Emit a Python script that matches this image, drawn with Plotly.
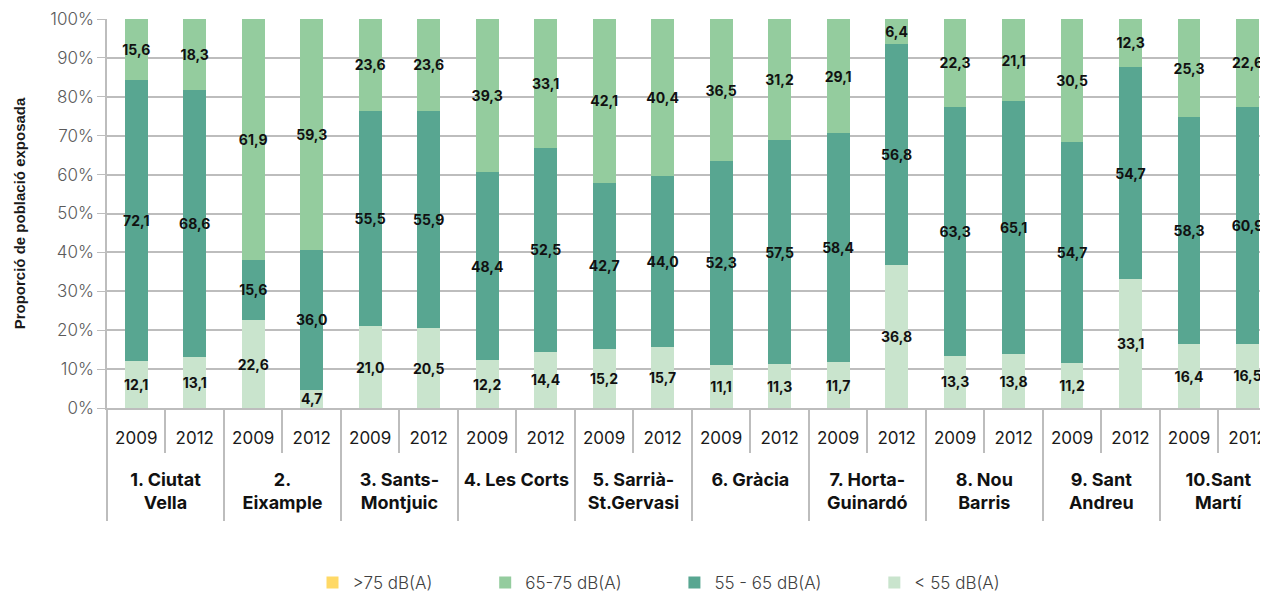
import plotly.graph_objects as go

districts = ["1. Ciutat<br>Vella", "2.<br>Eixample", "3. Sants-<br>Montjuic", "4. Les Corts",
             "5. Sarrià-<br>St.Gervasi", "6. Gràcia", "7. Horta-<br>Guinardó", "8. Nou<br>Barris",
             "9. Sant<br>Andreu", "10.Sant<br>Martí"]
years = ["2009", "2012"]

below55 = [12.1, 13.1, 22.6, 4.7, 21.0, 20.5, 12.2, 14.4, 15.2, 15.7,
           11.1, 11.3, 11.7, 36.8, 13.3, 13.8, 11.2, 33.1, 16.4, 16.5]
db55_65 = [72.1, 68.6, 15.6, 36.0, 55.5, 55.9, 48.4, 52.5, 42.7, 44.0,
           52.3, 57.5, 58.4, 56.8, 63.3, 65.1, 54.7, 54.7, 58.3, 60.9]
db65_75 = [15.6, 18.3, 61.9, 59.3, 23.6, 23.6, 39.3, 33.1, 42.1, 40.4,
           36.5, 31.2, 29.1, 6.4, 22.3, 21.1, 30.5, 12.3, 25.3, 22.6]
above75 = [0] * 20

series_names = ["< 55 dB(A)", "55 - 65 dB(A)", "65-75 dB(A)", ">75 dB(A)"]
colors = ["#C9E4CD", "#58A691", "#94CC9E", "#FFD966"]

FONT = "Inter"
x_keys = [f"{d}|{y}" for d in districts for y in years]
year_text = [y for d in districts for y in years]
n = len(x_keys)
xr = [-0.5, n - 0.65]

def fmt(v):
    return f"{v:.1f}".replace(".", ",")

pad = "\u00a0" * 10
fig = go.Figure()
for i, (name, vals, col) in enumerate(zip(series_names, [below55, db55_65, db65_75, above75], colors)):
    fig.add_trace(go.Bar(
        x=x_keys, y=vals, name=name if i == 0 else name + pad,
        marker=dict(color=col, line=dict(width=0)),
        text=[fmt(v) if v > 0 else "" for v in vals],
        textposition="inside", insidetextanchor="middle", textangle=0,
        constraintext="none",
        textfont=dict(family=FONT, size=14, color="#111111", weight="bold"),
    ))

# empty helper traces so the overlay axes (separators / district labels) are drawn
for ax in ["x2", "x3", "x4"]:
    fig.add_trace(go.Scatter(x=[None], y=[None], xaxis=ax, yaxis="y", showlegend=False,
                             hoverinfo="skip", mode="markers"))

grey = "#BDBDBD"
common = dict(overlaying="x", anchor="y", side="bottom", type="linear", range=xr,
              showgrid=False, zeroline=False, showline=False, tickmode="array", fixedrange=True)

fig.update_layout(
    width=1260, height=585,
    margin=dict(l=99, r=0, t=11, b=185, autoexpand=False),
    barmode="stack", barnorm="percent", bargap=0.61,
    plot_bgcolor="white", paper_bgcolor="white",
    font=dict(family=FONT, color="#222222"),
    showlegend=True,
    legend=dict(orientation="h", traceorder="reversed", x=0.177, xanchor="left",
                y=-0.45, yanchor="middle",
                font=dict(family=FONT, size=17, color="#404040", weight=300)),
    xaxis=dict(type="category", range=xr, tickmode="array", tickvals=x_keys, ticktext=year_text,
               ticks="outside", ticklen=14, tickcolor="rgba(0,0,0,0)",
               tickfont=dict(family=FONT, size=17, color="#1a1a1a"),
               showline=True, linecolor=grey, linewidth=2, showgrid=False),
    xaxis2=dict(**common, tickvals=[i + 0.5 for i in range(0, n, 2)], ticktext=[""] * (n // 2),
                ticks="outside", ticklen=44, tickcolor=grey, tickwidth=1.5, showticklabels=False),
    xaxis3=dict(**common, tickvals=[i - 0.5 for i in range(0, n + 1, 2)], ticktext=[""] * (n // 2 + 1),
                ticks="outside", ticklen=112, tickcolor=grey, tickwidth=1.5, showticklabels=False),
    xaxis4=dict(**common, tickvals=[i + 0.5 for i in range(0, n, 2)], ticktext=[f"<b>{d}</b>" for d in districts],
                ticks="outside", ticklen=55, tickcolor="rgba(0,0,0,0)",
                tickfont=dict(family=FONT, size=18, color="#111111")),
    yaxis=dict(range=[0, 100], dtick=10, ticksuffix="%", showgrid=True, gridcolor=grey, gridwidth=1.5,
               showline=True, linecolor=grey, linewidth=1.5, ticks="outside", ticklen=8, tickcolor=grey,
               zeroline=False, fixedrange=True,
               tickfont=dict(family=FONT, size=17, color="#5a5a5a", weight=300),
               title=dict(text="<b>Proporció de població exposada</b>", standoff=21,
                          font=dict(family="Liberation Sans", size=15, color="#1a1a1a"))),
)

fig.write_html("out.html")
